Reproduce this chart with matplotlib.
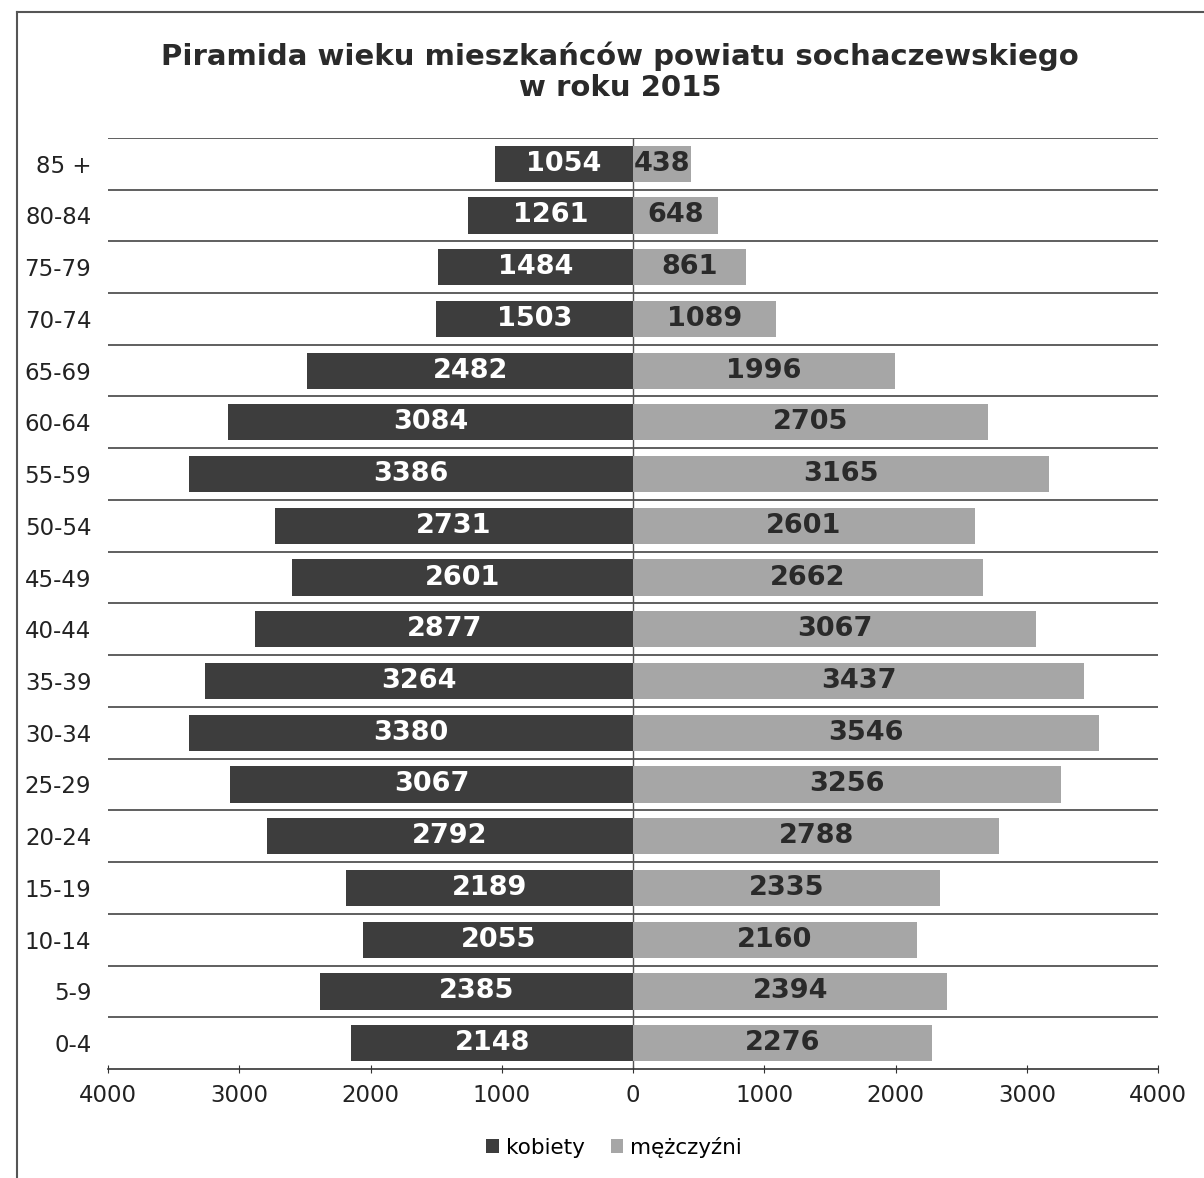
import matplotlib
matplotlib.use("Agg")
import matplotlib.pyplot as plt
import numpy as np

categories = ["0-4", "5-9", "10-14", "15-19", "20-24", "25-29", "30-34", "35-39",
              "40-44", "45-49", "50-54", "55-59", "60-64", "65-69", "70-74",
              "75-79", "80-84", "85 +"]
kobiety = [2148, 2385, 2055, 2189, 2792, 3067, 3380, 3264, 2877, 2601, 2731,
           3386, 3084, 2482, 1503, 1484, 1261, 1054]
mezczyzni = [2276, 2394, 2160, 2335, 2788, 3256, 3546, 3437, 3067, 2662, 2601,
             3165, 2705, 1996, 1089, 861, 648, 438]
xticks = [-4000, -3000, -2000, -1000, 0, 1000, 2000, 3000, 4000]
xticklabels = ["4000", "3000", "2000", "1000", "0", "1000", "2000", "3000", "4000"]

plt.rcParams['font.family'] = ['DejaVu Sans']
fig = plt.figure(figsize=(12.04, 11.78), dpi=100)
ax = fig.add_axes([0.0897, 0.0925, 0.8723, 0.7905])

y = np.arange(len(categories))
c_k = "#3d3d3d"
c_m = "#a6a6a6"
ax.barh(y, [-v for v in kobiety], height=0.7, color=c_k, label="kobiety", zorder=3)
ax.barh(y, mezczyzni, height=0.7, color=c_m, label="mężczyźni", zorder=3)

for yi, k, m in zip(y, kobiety, mezczyzni):
    ax.text(-k / 2, yi, str(k), ha="center", va="center", color="white",
            fontsize=19.5, fontweight="bold", zorder=4)
    ax.text(m / 2, yi, str(m), ha="center", va="center", color="#2a2a2a",
            fontsize=19.5, fontweight="bold", zorder=4)

ax.set_xlim(-4000, 4000)
ax.set_ylim(-0.5, len(categories) - 0.5)
ax.set_yticks(y)
ax.set_yticklabels(categories, fontsize=16.5, color="#222222")
ax.set_xticks(xticks)
ax.set_xticklabels(xticklabels, fontsize=16.5, color="#222222")
ax.tick_params(axis="y", length=0, pad=12)
ax.tick_params(axis="x", length=6, direction="inout", color="#333333", pad=8)

for b in np.arange(-0.5, len(categories), 1.0)[1:]:
    ax.axhline(b, color="#444444", lw=1.2, zorder=1)
ax.axvline(0, color="#555555", lw=1.0, zorder=2)

for s in ["top", "right", "left"]:
    ax.spines[s].set_visible(False)
ax.spines["bottom"].set_color("#333333")
ax.spines["bottom"].set_linewidth(1.2)

fig.text(0.515, 0.939, "Piramida wieku mieszkańców powiatu sochaczewskiego\nw roku 2015",
         ha="center", va="center", fontsize=21, fontweight="bold", color="#2a2a2a",
         linespacing=1.15)

leg = fig.legend(loc="center", bbox_to_anchor=(0.51, 0.026), ncol=2, frameon=False,
                 fontsize=15.5, handlelength=0.6, handleheight=0.6, handletextpad=0.3,
                 columnspacing=1.2)

# outer frame
fig.add_artist(plt.Line2D([0.014, 0.014], [0.0, 0.99], color="#555555", lw=1.5,
                          transform=fig.transFigure))
fig.add_artist(plt.Line2D([0.014, 1.0], [0.99, 0.99], color="#555555", lw=1.5,
                          transform=fig.transFigure))

fig.savefig("out.png", dpi=100, facecolor="white")
